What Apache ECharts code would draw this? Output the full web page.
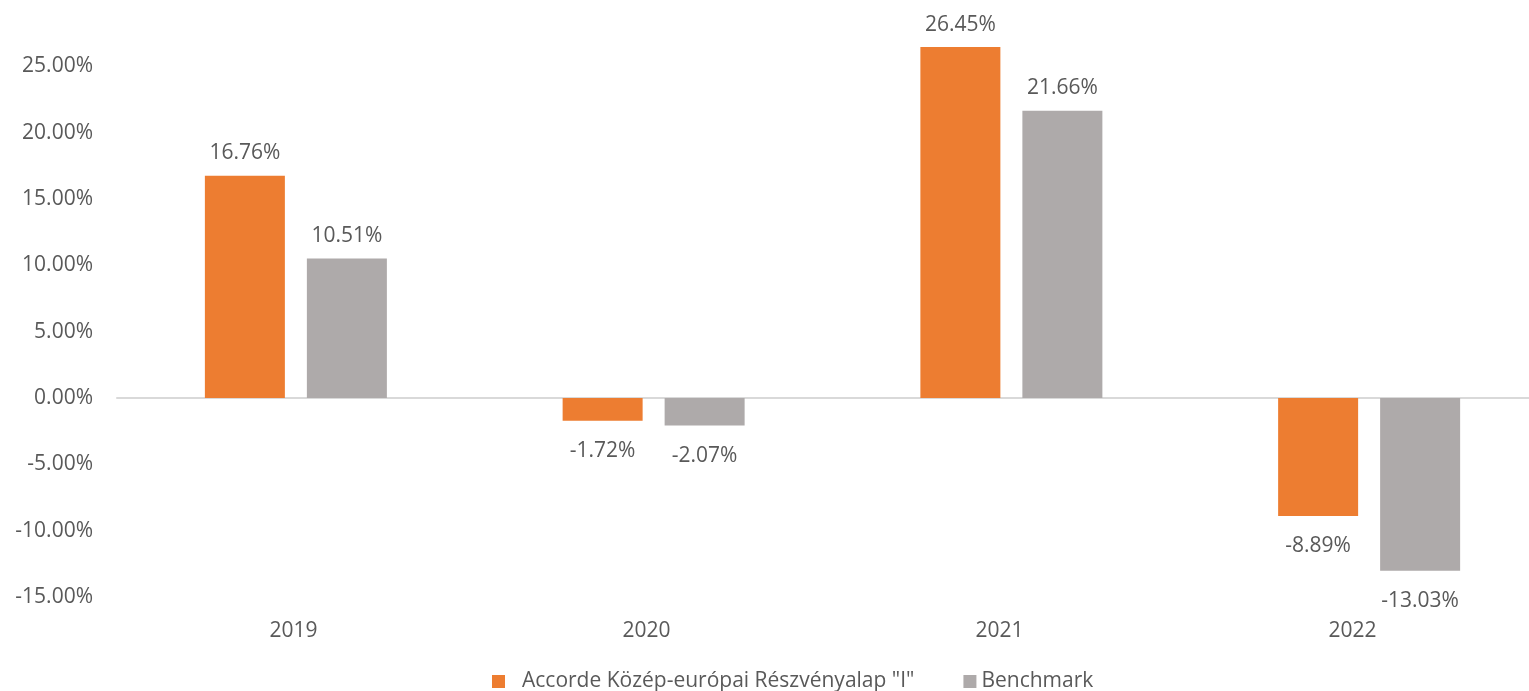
<!DOCTYPE html>
<html><head><meta charset="utf-8">
<script src="https://cdn.jsdelivr.net/npm/echarts@6/dist/echarts.min.js"></script>
<style>html,body{margin:0;padding:0;background:#fff;overflow:hidden;width:1529px;height:691px}#c{width:1548px;height:691px}</style>
</head><body><div id="c"></div>
<script>
const categories = ['2019', '2020', '2021', '2022'];
const fundName = 'Accorde Közép-európai Részvényalap "I"';
const fundValues = [16.76, -1.72, 26.45, -8.89];
const benchName = 'Benchmark';
const benchValues = [10.51, -2.07, 21.66, -13.03];

const FONT = 'Open Sans';
const TXT = '#595959';
function mk(vals) {
  return vals.map(v => ({ value: v, label: { position: v < 0 ? 'bottom' : 'top', distance: v < 0 ? 20 : 12 } }));
}
const labelCfg = { show: true, color: TXT, fontSize: 21, fontFamily: FONT,
  formatter: p => p.value.toFixed(2) + '%' };
const chart = echarts.init(document.getElementById('c'));
chart.setOption({
  animation: false,
  textStyle: { fontFamily: FONT },
  grid: [
    { left: 117, right: 0, top: 0, bottom: 94, containLabel: false },
    { left: 117, right: 19, top: 0, bottom: 94, containLabel: false }
  ],
  legend: {
    top: 671, left: 492, padding: 0, itemWidth: 13, itemHeight: 13, itemGap: 49,
    icon: 'rect',
    textStyle: { color: TXT, fontSize: 21, fontFamily: FONT },
    data: [{ name: fundName, textStyle: { padding: [0, 0, 0, 12] } }, benchName]
  },
  xAxis: [
    { type: 'category', data: categories, gridIndex: 0,
      axisLine: { show: true, lineStyle: { color: '#d9d9d9', width: 2 } },
      axisTick: { show: false }, axisLabel: { show: false } },
    { type: 'category', data: categories, gridIndex: 1,
      axisLine: { show: false }, axisTick: { show: false },
      axisLabel: { color: TXT, fontSize: 21, fontFamily: FONT, margin: 24 } }
  ],
  yAxis: [
    { type: 'value', min: -15, max: 30, interval: 5, gridIndex: 0,
      splitLine: { show: false },
      axisLine: { show: false }, axisTick: { show: false },
      axisLabel: { color: TXT, fontSize: 21, fontFamily: FONT, margin: 24, showMaxLabel: false,
        formatter: v => v.toFixed(2) + '%' } },
    { type: 'value', min: -15, max: 30, gridIndex: 1, show: false }
  ],
  series: [
    { name: fundName, type: 'bar', data: mk(fundValues), barWidth: 80, barGap: '27.5%',
      xAxisIndex: 0, yAxisIndex: 0,
      itemStyle: { color: '#ED7D31' }, label: labelCfg },
    { name: benchName, type: 'bar', data: mk(benchValues), barWidth: 80,
      xAxisIndex: 0, yAxisIndex: 0,
      itemStyle: { color: '#AEAAAA' }, label: labelCfg }
  ]
});
</script></body></html>
